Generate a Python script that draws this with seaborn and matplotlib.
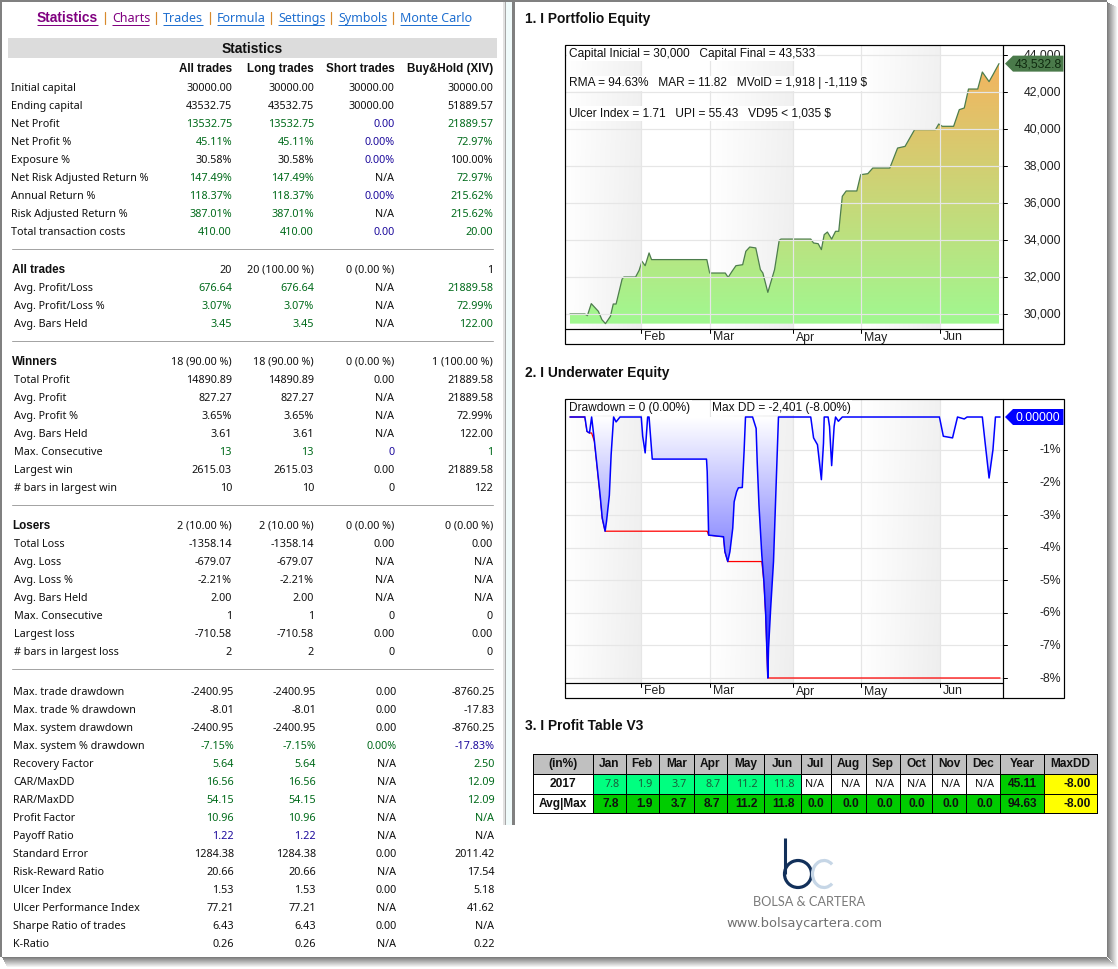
import numpy as np
import pandas as pd
import seaborn as sns
import matplotlib
matplotlib.use("Agg")
import matplotlib.pyplot as plt
from matplotlib.colors import ListedColormap, LinearSegmentedColormap
from matplotlib.patches import Rectangle, Arc, Polygon

sns.set_theme(style="white")
plt.rcParams['font.family'] = ['Noto Sans', 'DejaVu Sans']

# ---------------- data ----------------
nav_labels = ["Statistics", "Charts", "Trades", "Formula", "Settings", "Symbols", "Monte Carlo"]
col_headers = ["All trades", "Long trades", "Short trades", "Buy&Hold (XIV)"]

sec1_labels = ["Initial capital", "Ending capital", "Net Profit", "Net Profit %", "Exposure %",
               "Net Risk Adjusted Return %", "Annual Return %", "Risk Adjusted Return %", "Total transaction costs"]
sec1_values = [["30000.00", "30000.00", "30000.00", "30000.00"],
               ["43532.75", "43532.75", "30000.00", "51889.57"],
               ["13532.75", "13532.75", "0.00", "21889.57"],
               ["45.11%", "45.11%", "0.00%", "72.97%"],
               ["30.58%", "30.58%", "0.00%", "100.00%"],
               ["147.49%", "147.49%", "N/A", "72.97%"],
               ["118.37%", "118.37%", "0.00%", "215.62%"],
               ["387.01%", "387.01%", "N/A", "215.62%"],
               ["410.00", "410.00", "0.00", "20.00"]]
sec1_tones = ["kkkk", "kkkk", "ggbg", "ggbg", "kkbk", "ggkg", "ggbg", "ggkg", "ggbg"]

sec2_labels = ["All trades", "Avg. Profit/Loss", "Avg. Profit/Loss %", "Avg. Bars Held"]
sec2_values = [["20", "20 (100.00 %)", "0 (0.00 %)", "1"],
               ["676.64", "676.64", "N/A", "21889.58"],
               ["3.07%", "3.07%", "N/A", "72.99%"],
               ["3.45", "3.45", "N/A", "122.00"]]
sec2_tones = ["kkkk", "ggkg", "ggkg", "ggkg"]

sec3_labels = ["Winners", "Total Profit", "Avg. Profit", "Avg. Profit %", "Avg. Bars Held",
               "Max. Consecutive", "Largest win", "# bars in largest win"]
sec3_values = [["18 (90.00 %)", "18 (90.00 %)", "0 (0.00 %)", "1 (100.00 %)"],
               ["14890.89", "14890.89", "0.00", "21889.58"],
               ["827.27", "827.27", "N/A", "21889.58"],
               ["3.65%", "3.65%", "N/A", "72.99%"],
               ["3.61", "3.61", "N/A", "122.00"],
               ["13", "13", "0", "1"],
               ["2615.03", "2615.03", "0.00", "21889.58"],
               ["10", "10", "0", "122"]]
sec3_tones = ["kkkk", "kkkk", "kkkk", "kkkk", "kkkk", "ggbg", "kkkk", "kkkk"]

sec4_labels = ["Losers", "Total Loss", "Avg. Loss", "Avg. Loss %", "Avg. Bars Held",
               "Max. Consecutive", "Largest loss", "# bars in largest loss"]
sec4_values = [["2 (10.00 %)", "2 (10.00 %)", "0 (0.00 %)", "0 (0.00 %)"],
               ["-1358.14", "-1358.14", "0.00", "0.00"],
               ["-679.07", "-679.07", "N/A", "N/A"],
               ["-2.21%", "-2.21%", "N/A", "N/A"],
               ["2.00", "2.00", "N/A", "N/A"],
               ["1", "1", "0", "0"],
               ["-710.58", "-710.58", "0.00", "0.00"],
               ["2", "2", "0", "0"]]
sec4_tones = ["kkkk"] * 8

sec5_labels = ["Max. trade drawdown", "Max. trade % drawdown", "Max. system drawdown", "Max. system % drawdown",
               "Recovery Factor", "CAR/MaxDD", "RAR/MaxDD", "Profit Factor", "Payoff Ratio", "Standard Error",
               "Risk-Reward Ratio", "Ulcer Index", "Ulcer Performance Index", "Sharpe Ratio of trades", "K-Ratio"]
sec5_values = [["-2400.95", "-2400.95", "0.00", "-8760.25"],
               ["-8.01", "-8.01", "0.00", "-17.83"],
               ["-2400.95", "-2400.95", "0.00", "-8760.25"],
               ["-7.15%", "-7.15%", "0.00%", "-17.83%"],
               ["5.64", "5.64", "N/A", "2.50"],
               ["16.56", "16.56", "N/A", "12.09"],
               ["54.15", "54.15", "N/A", "12.09"],
               ["10.96", "10.96", "N/A", "N/A"],
               ["1.22", "1.22", "N/A", "N/A"],
               ["1284.38", "1284.38", "0.00", "2011.42"],
               ["20.66", "20.66", "N/A", "17.54"],
               ["1.53", "1.53", "0.00", "5.18"],
               ["77.21", "77.21", "N/A", "41.62"],
               ["6.43", "6.43", "0.00", "N/A"],
               ["0.26", "0.26", "N/A", "0.22"]]
sec5_tones = ["kkkk", "kkkk", "kkkk", "gggb", "ggkg", "ggkg", "ggkg", "ggkg", "bbkk",
              "kkkk", "kkkk", "kkkk", "kkkk", "kkkk", "kkkk"]
sec5_tones[7] = "ggkg"

month_labels = ["Feb", "Mar", "Apr", "May", "Jun"]
month_bars = [20, 39.5, 63, 82, 104.3]

equity_bars = [0, 4.2, 4.9, 6, 8, 9, 10, 11.4, 12.2, 13, 14.7, 15.2, 18.5, 19.5, 20.3, 21.2, 22.3, 23,
               38.6, 39.4, 43.8, 44.6, 45.7, 46.8, 48.7, 49.6, 50.7, 52.4, 53.7, 54.4, 55.8, 57.7, 59, 59.5,
               67.9, 68.7, 70, 70.9, 71.7, 72.6, 73.8, 74.9, 75.8, 76.8, 77.9, 80.9, 82, 84, 85.4, 90.2,
               92.4, 94.5, 97.2, 103.1, 104, 105, 108.2, 109.8, 111.2, 112.4, 115, 116.3, 118.2, 119.3, 121]
equity_values = [30000, 30000, 29910, 30560, 30145, 29695, 29480, 29875, 30540, 30540, 31890, 32000, 32000, 32360,
                 32850, 32610, 33300, 32940, 32940, 32215, 32215, 31980, 32305, 32610, 32665, 33390, 33620, 33570,
                 32400, 32215, 31170, 32400, 33980, 34050, 34050, 33840, 33800, 33480, 34290, 34430, 34050, 34470,
                 34470, 36360, 36650, 36650, 37530, 37585, 37890, 37890, 38970, 39060, 39965, 39965, 40270, 40145,
                 40145, 41045, 41135, 42160, 42160, 43080, 42560, 42935, 43532.8]
equity_ticks = [30000, 32000, 34000, 36000, 38000, 40000, 42000, 44000]

dd_bars = [0, 4.2, 4.8, 5.5, 6.1,
           6.9, 7.7, 8.5, 9.1, 9.9, 10.3, 11.1, 11.6, 12.3, 13, 14.1,
           20.1, 20.5, 21.2, 21.9, 22.3, 23.2,
           38.5, 38.7, 39.1, 43.3, 43.7, 44.5, 45.1, 45.9, 46.3, 47, 47.5, 48.6, 49.1, 49.5,
           51.5, 52.5, 52.8, 53.3, 54.1, 54.7, 55.2, 55.7, 55.8, 56, 56.6, 57.4, 58.3, 58.8,
           67.9, 68.7, 69.8, 70.9, 71.5, 71.7, 72.8, 73.2, 73.8, 74.5, 74.9, 75.7, 76.8, 104.2, 105.3, 107.9,
           109.3, 111.2, 112, 116.3, 117.1, 118.2, 119.3, 120, 121.3]
dd_values = [0, 0, -0.44, -0.49, 0,
             -0.75, -1.57, -2.4, -3.1, -3.5, -3.2, -2.4, -1.16, 0, -0.15, 0,
             0, -0.59, -1.1, 0, 0, -1.29,
             -1.29, -1.68, -3.62, -3.67, -4.13, -4.43, -4.13, -3.41, -2.6, -2.29, -2.17, -2.16, -1.06, 0,
             0, -0.35, -1.37, -2.7, -4.23, -5.05, -6.07, -7.7, -8.0, -7.09, -5.86, -4.43, -1.57, 0,
             0, -0.64, -0.85, -1.92, -0.8, 0, 0, -0.29, -1.49, -0.29, 0, -0.13, 0, 0, -0.59, -0.64,
             0, -0.06, 0, 0, -0.8, -1.87, -1.0, 0, 0]
dd_ticks = [-1, -2, -3, -4, -5, -6, -7, -8]

table_months = ["Jan", "Feb", "Mar", "Apr", "May", "Jun", "Jul", "Aug", "Sep", "Oct", "Nov", "Dec"]
table_header = ["(in%)"] + table_months + ["Year", "MaxDD"]
row_2017 = ["2017", "7.8", "1.9", "3.7", "8.7", "11.2", "11.8", "N/A", "N/A", "N/A", "N/A", "N/A", "N/A", "45.11", "-8.00"]
row_avg = ["Avg|Max", "7.8", "1.9", "3.7", "8.7", "11.2", "11.8", "0.0", "0.0", "0.0", "0.0", "0.0", "0.0", "94.63", "-8.00"]

chart1_notes = ["Capital Inicial = 30,000   Capital Final = 43,533",
                "RMA = 94.63%   MAR = 11.82   MVolD = 1,918 | -1,119 $",
                "Ulcer Index = 1.71   UPI = 55.43   VD95 < 1,035 $"]
chart2_notes = ["Drawdown = 0 (0.00%)", "Max DD = -2,401 (-8.00%)"]

# ---------------- figure scaffolding (pixel space) ----------------
W, H = 1118, 969
fig = plt.figure(figsize=(W / 100, H / 100), dpi=100, facecolor="white")
PXL = 0.72  # one pixel, in points
BOLD = dict(family="Liberation Sans", fontweight="bold")


def px_axes(x0, y0, x1, y1, z):
    return fig.add_axes([x0 / W, 1 - y1 / H, (x1 - x0) / W, (y1 - y0) / H], zorder=z)


def overlay(z):
    a = px_axes(0, 0, W, H, z)
    a.set_xlim(0, W)
    a.set_ylim(H, 0)
    a.axis("off")
    a.patch.set_alpha(0)
    return a


bg = overlay(0)
top = overlay(5)

# window chrome
bg.add_patch(Rectangle((0, 0), 1107, 2.3, color="#808080", lw=0))
bg.add_patch(Rectangle((0, 0), 2.3, 957, color="#808080", lw=0))
for i in range(10):
    g = 125 + i * 13
    c = (g / 255, g / 255, g / 255)
    bg.add_patch(Rectangle((1107 + i, 2 + i * 0.5), 1, 955 + i * 0.6, color=c, lw=0))
    bg.add_patch(Rectangle((2 + i * 0.5, 957 + i), 1105 + i * 0.6, 1, color=c, lw=0))
bg.add_patch(Rectangle((503, 2), 1.5, 823, color="#e2e2e2", lw=0))
bg.add_patch(Rectangle((504.5, 2), 1.5, 823, color="#a8a8a8", lw=0))
bg.add_patch(Rectangle((506, 2), 6, 823, color="#f0fbfb", lw=0))
bg.add_patch(Rectangle((512, 2), 2.7, 823, color="#808080", lw=0))

# ---------------- left statistics panel ----------------
FS = 7.75
GREEN, NAVY, BLACK = "#006a1a", "#1c0a9c", "#101010"
tone_map = {"k": BLACK, "g": GREEN, "b": NAVY}
nav_x = [37, 112, 163, 217, 278, 338, 400]
nav_end = [98, 149, 203, 264, 324, 386, 469]
nav_col = ["#800080", "#800080", "#1f6fd0", "#1f6fd0", "#1f6fd0", "#1f6fd0", "#1f6fd0"]
for i, lab in enumerate(nav_labels):
    if i == 0:
        bg.text(nav_x[i], 18, lab, color=nav_col[i], fontsize=9.9, va="center", ha="left", **BOLD)
    else:
        bg.text(nav_x[i], 18.5, lab, color=nav_col[i], fontsize=9, va="center", ha="left")
    bg.plot([nav_x[i], nav_end[i]], [24.5, 24.5], color=nav_col[i], lw=PXL, solid_capstyle="butt")
    if i < len(nav_labels) - 1:
        bg.plot([nav_end[i] + 7] * 2, [12, 24], color="#d88a2c", lw=PXL * 1.2)

bg.add_patch(Rectangle((8, 38), 489, 20, color="#dcdcdc", lw=0))
bg.text(252, 48.5, "Statistics", fontsize=9.9, ha="center", va="center", color="#101010", **BOLD)
for x, lab in zip([232, 314, 395, 493], col_headers):
    bg.text(x, 69, lab, fontsize=8.4, ha="right", va="center", color="#101010", **BOLD)


def section(labels, values, tones, y0, lab_x, col_x, head_bold=False, head_x=None):
    for r, (lab, vals, tone) in enumerate(zip(labels, values, tones)):
        y = y0 + r * 18 + 1.4
        if head_bold and r == 0:
            bg.text(head_x, y - 0.6, lab, fontsize=8.4, ha="left", va="center", color="#101010", **BOLD)
        else:
            bg.text(lab_x, y, lab, fontsize=FS, ha="left", va="center", color="#101010")
        for x, v, t in zip(col_x, vals, tone):
            bg.text(x, y, v, fontsize=FS, ha="right", va="center", color=tone_map[t])


cols = [232, 314, 394.5, 493]
section(sec1_labels, sec1_values, sec1_tones, 87, 11, cols)
section(sec2_labels, sec2_values, sec2_tones, 269, 14, cols, True, 12)
section(sec3_labels, sec3_values, sec3_tones, 361, 14, cols, True, 12)
section(sec4_labels, sec4_values, sec4_tones, 525, 14, cols, True, 12)
section(sec5_labels, sec5_values, sec5_tones, 691, 13, [234, 316, 396.5, 494.5])
for y in [249, 341, 505, 669]:
    bg.plot([12, 493], [y, y], color="#a4a4a4", lw=PXL)

# ---------------- right-hand headings ----------------
for y, t in zip([18, 372, 726], ["1. I Portfolio Equity", "2. I Underwater Equity", "3. I Profit Table V3"]):
    bg.text(525, y + 0.5, t, fontsize=9.9, ha="left", va="center", color="#101010", **BOLD)

# ---------------- chart helpers ----------------
PX0, PX1 = 565, 1003
XLIM = (-1.41, 122.13)
ARIAL = "Liberation Sans"
GRID = "#e6e6e6"


def gradient(ax, x0, x1, y0, y1, c0, c1, clip=None, z=0.5):
    arr = np.linspace(0, 1, 256)[:, None]
    cm = LinearSegmentedColormap.from_list("g", [c0, c1])
    im = ax.imshow(arr, extent=[x0, x1, y0, y1], origin="lower", aspect="auto", cmap=cm, vmin=0, vmax=1,
                   zorder=z, interpolation="bilinear")
    if clip is not None:
        im.set_clip_path(clip.get_paths()[0], ax.transData)
    return im


def band(ax, x0, x1, ylim):
    # diagonal shading: white at the upper left, light grey at the lower right
    u, v = np.meshgrid(np.linspace(0, 1, 64), np.linspace(0, 1, 64))
    arr = 0.82 * u + 0.18 * (1 - v) * u
    cm = LinearSegmentedColormap.from_list("b", ["#ffffff", "#eeeeee"])
    ax.imshow(arr, extent=[x0, x1, ylim[0], ylim[1]], origin="lower", aspect="auto", cmap=cm, vmin=0, vmax=1,
              zorder=0.1, interpolation="bilinear")


def frame_chart(ax, ylim, yticks, ylabels, y_px_top, y_px_bot, grid_z):
    ax.set_xlim(*XLIM)
    ax.set_ylim(*ylim)
    # alternating month shading
    edges = [XLIM[0]] + month_bars + [XLIM[1]]
    for k in (0, 2, 4):
        band(ax, edges[k], edges[k + 1], ylim)
    ax.set_xlim(*XLIM)
    ax.set_ylim(*ylim)
    for v in yticks:
        ax.axhline(v, color=GRID, lw=PXL * 1.2, zorder=grid_z)
    for b in month_bars:
        ax.axvline(b, color=GRID, lw=PXL * 1.2, zorder=grid_z)
    ax.set_xticks([])
    ax.set_yticks([])
    ax.set_xlabel("")
    ax.set_ylabel("")
    for s in ax.spines.values():
        s.set_visible(False)
    # outer frame, dividers and axis labels in pixel space
    top.add_patch(Rectangle((PX0, y_px_top), 1064 - PX0, y_px_bot + 15 - y_px_top, fill=False, ec="black", lw=PXL * 1.2))
    top.plot([PX0, PX1], [y_px_bot, y_px_bot], color="black", lw=PXL * 1.2)
    top.plot([PX1, PX1], [y_px_top, y_px_bot + 15], color="black", lw=PXL * 1.2)
    tr = ax.transData + top.transData.inverted()
    for b, lab in zip(month_bars, month_labels):
        xp = tr.transform((b, ylim[0]))[0]
        top.plot([xp, xp], [y_px_bot, y_px_bot + 4], color="black", lw=PXL)
        top.text(xp + 3, y_px_bot + 8.5, lab, fontsize=8.8, family=ARIAL, ha="left", va="center", color="#202020")
    for v, lab in zip(yticks, ylabels):
        yp = tr.transform((0, v))[1]
        top.plot([PX1, PX1 + 4], [yp, yp], color="black", lw=PXL)
        top.text(1061, yp + 0.7, lab, fontsize=8.8, family=ARIAL, ha="right", va="center", color="#202020")
    return tr


def badge(value, yp, col, txtcol):
    top.add_patch(Polygon([[1005, yp], [1013, yp - 8], [1063.5, yp - 8], [1063.5, yp + 8], [1013, yp + 8]],
                          closed=True, color=col, lw=0, zorder=6))
    t = top.text(1015, yp + 0.5, value, fontsize=8.8, family=ARIAL, ha="left", va="center", color=txtcol, zorder=7,
                 clip_on=True)
    t.set_clip_path(Rectangle((1005, yp - 9), 58.5, 18, transform=top.transData))


# ---------------- chart 1: equity ----------------
eq = pd.DataFrame({"bar": equity_bars, "equity": equity_values})
ax1 = px_axes(PX0, 45, PX1, 329, 1)
base = min(equity_values)
poly = ax1.fill_between(eq["bar"], eq["equity"], base, color="none", lw=0)
gradient(ax1, 0, 121, base, max(equity_values), "#a0f890", "#f3b45f", clip=poly, z=2)
sns.lineplot(data=eq, x="bar", y="equity", estimator=None, sort=False, color="#4d7d4d", lw=0.9, ax=ax1, zorder=2.5)
tr1 = frame_chart(ax1, (29189, 44540), equity_ticks, [f"{v:,}" for v in equity_ticks], 45, 329, 3)
badge(f"{equity_values[-1]:,.1f}", tr1.transform((0, equity_values[-1]))[1], "#4a7a4a", "#0f2a0f")
for y, t in zip([53.6, 83.4, 113.4], chart1_notes):
    top.text(569, y, t, fontsize=8.6, family=ARIAL, ha="left", va="center", color="#101010",
             bbox=dict(fc="white", ec="none", pad=1.2))

# ---------------- chart 2: underwater ----------------
dd = pd.DataFrame({"bar": dd_bars, "dd": dd_values})
dd["worst"] = np.minimum.accumulate(dd["dd"])
ax2 = px_axes(PX0, 399, PX1, 683, 1)
poly2 = ax2.fill_between(dd["bar"], dd["dd"], 0, color="none", lw=0)
sns.lineplot(data=dd, x="bar", y="worst", estimator=None, sort=False, color="#ff0000", lw=0.9, ax=ax2, zorder=1.5)
gradient(ax2, 0, 121.3, -8, 0, "#1a1aff", "#ffffff", clip=poly2, z=2)
sns.lineplot(data=dd, x="bar", y="dd", estimator=None, sort=False, color="#0000ff", lw=1.1, ax=ax2, zorder=4.5)
tr2 = frame_chart(ax2, (-8.153, 0.552), dd_ticks, [f"{v}%" for v in dd_ticks], 399, 683, 1)
badge("0.00000", tr2.transform((0, 0))[1], "#0000ff", "white")
for x, t in zip([569, 712], chart2_notes):
    top.text(x, 407.5, t, fontsize=8.6, family=ARIAL, ha="left", va="center", color="#101010",
             bbox=dict(fc="white", ec="none", pad=1.0))

# ---------------- profit table ----------------
col_edges = [532.6, 592.5, 625.7, 659, 693.7, 727, 764, 801, 830.7, 866, 900, 932, 966, 1000, 1044, 1097]
row_edges = [753.7, 773.7, 793.7, 813.3]
palette = ListedColormap(["#c0c0c0", "#ffffff", "#00ff80", "#00cc00", "#ffff00"])
rows = [table_header, row_2017, row_avg]


def cell_code(r, c):
    if r == 0:
        return 0
    if c == 0:
        return 1
    if c == 14:
        return 4
    if c == 13 or r == 2:
        return 3
    return 1 if rows[r][c] == "N/A" else 2


codes = np.array([[cell_code(r, c) for c in range(15)] for r in range(3)])
bg.pcolormesh(col_edges, row_edges, codes, cmap=palette, vmin=-0.5, vmax=4.5, edgecolors="black", linewidth=PXL)
bg.set_xlim(0, W)
bg.set_ylim(H, 0)
for r, row in enumerate(rows):
    yc = (row_edges[r] + row_edges[r + 1]) / 2 + 0.5
    for c, t in enumerate(row):
        bold = r != 1 or c in (0, 13, 14)
        if r == 0 or c == 0:
            x, ha = (col_edges[c] + col_edges[c + 1]) / 2, "center"
        else:
            x, ha = col_edges[c + 1] - 6.5, "right"
        txtc = "#101010" if (bold or t == "N/A") else "#1a5c3a"
        if bold:
            bg.text(x, yc, t, fontsize=8.6, ha=ha, va="center", color=txtc, **BOLD)
        else:
            bg.text(x, yc + 0.7, t, fontsize=7.75, ha=ha, va="center", color=txtc)

# ---------------- logo ----------------
NAVY_LOGO, LIGHT = "#12305a", "#c6d6e6"
bg.plot([785, 785], [838, 874], color=NAVY_LOGO, lw=2.2, solid_capstyle="butt")
bg.add_patch(Arc((798, 874), 27, 27, lw=2.3, color=NAVY_LOGO))
bg.add_patch(Arc((824, 874), 23, 27, theta1=50, theta2=310, lw=2.3, color=LIGHT))
bg.text(809.5, 902, "BOLSA & CARTERA", fontsize=9.2, family="Lato", ha="center", va="center", color="#7a7a7a")
bg.text(805, 923.5, "www.bolsaycartera.com", fontsize=9.4, family="DejaVu Sans", ha="center", va="center",
        color="#707070")

fig.savefig("out.png", dpi=100, facecolor="white")
